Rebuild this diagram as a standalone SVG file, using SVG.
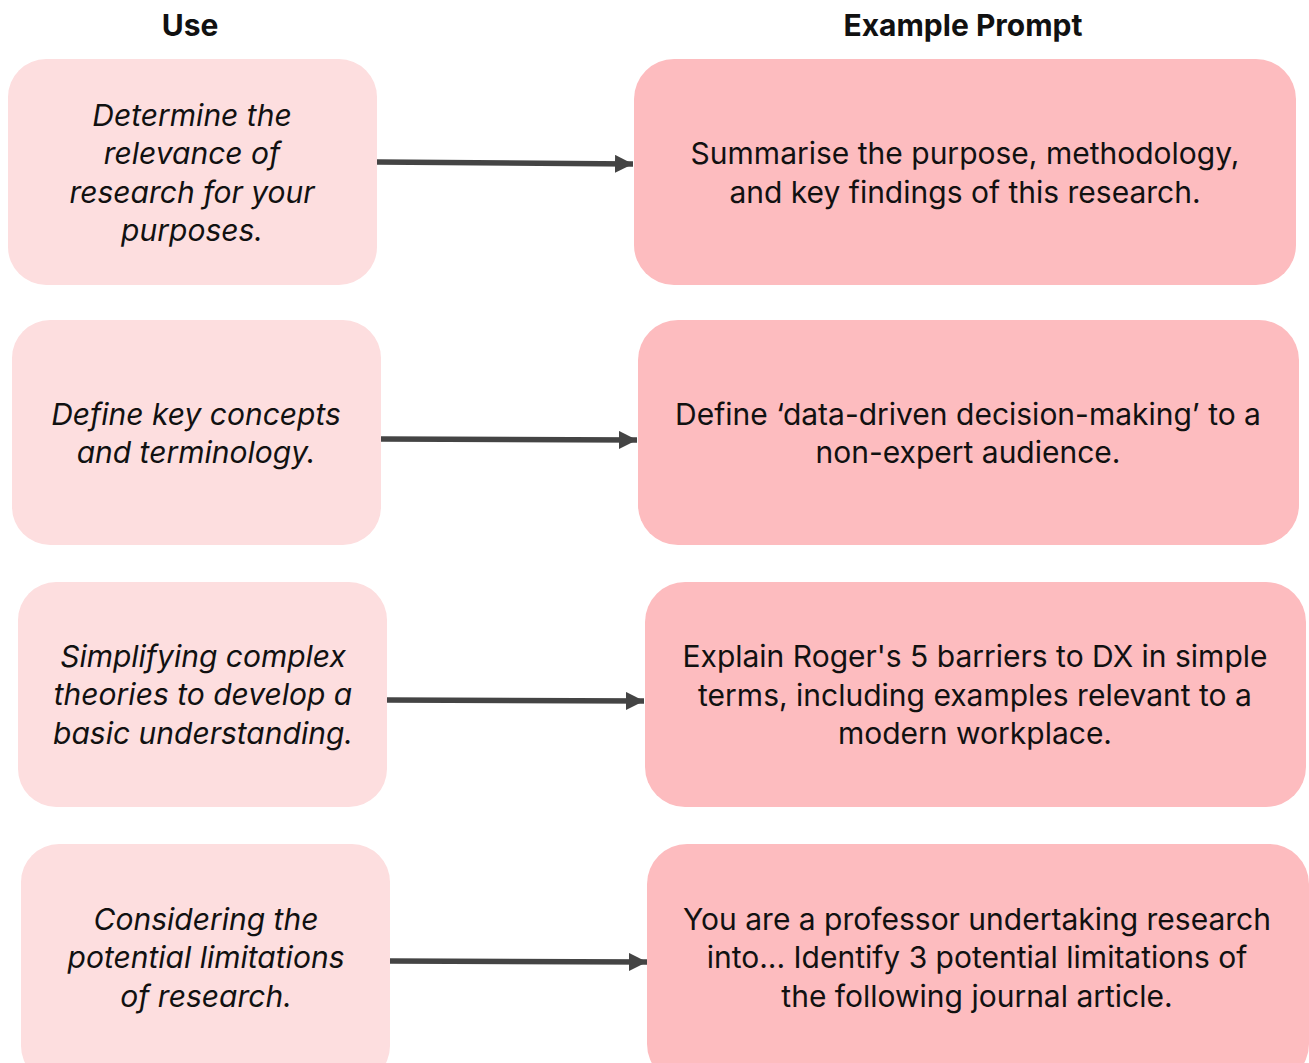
<svg xmlns="http://www.w3.org/2000/svg" width="1309" height="1063" viewBox="0 0 1309 1063">
<defs>
<style>
.use{fill:#FDDEDF}
.ex{fill:#FDBCBF}
.t{font-family:Inter,"Open Sans",sans-serif;font-size:30px;fill:#111;text-anchor:middle}
.i{font-style:italic}
.h{font-family:Inter,"Open Sans",sans-serif;font-size:30px;font-weight:bold;fill:#111;text-anchor:middle}
.c{stroke:#444;stroke-width:5.5;fill:none}
</style>
<marker id="ah" viewBox="0 0 18 18" refX="18" refY="9" markerWidth="18" markerHeight="18" markerUnits="userSpaceOnUse" orient="auto">
<path d="M0,0 L18,9 L0,18 Z" fill="#444"/>
</marker>
</defs>
<rect width="1309" height="1063" fill="#fff"/>
<text class="h" x="190" y="36">Use</text>
<text class="h" x="963" y="36">Example Prompt</text>
<g id="use1"><rect class="use" x="8" y="59" width="369" height="226" rx="38"/>
<text class="t i"><tspan x="192" y="126">Determine the</tspan><tspan x="192" y="164">relevance of</tspan><tspan x="192" y="203">research for your</tspan><tspan x="192" y="241">purposes.</tspan></text></g>
<g id="use2"><rect class="use" x="12" y="320" width="369" height="225" rx="38"/>
<text class="t i"><tspan x="196" y="425">Define key concepts</tspan><tspan x="196" y="463">and terminology.</tspan></text></g>
<g id="use3"><rect class="use" x="18" y="582" width="369" height="225" rx="38"/>
<text class="t i"><tspan x="203" y="667">Simplifying complex</tspan><tspan x="203" y="705">theories to develop a</tspan><tspan x="203" y="744">basic understanding.</tspan></text></g>
<g id="use4"><rect class="use" x="21" y="844" width="369" height="240" rx="38"/>
<text class="t i"><tspan x="206" y="930">Considering the</tspan><tspan x="206" y="968">potential limitations</tspan><tspan x="206" y="1007">of research.</tspan></text></g>
<g id="ex1"><rect class="ex" x="634" y="59" width="662" height="226" rx="40"/>
<text class="t"><tspan x="965" y="164">Summarise the purpose, methodology,</tspan><tspan x="965" y="203">and key findings of this research.</tspan></text></g>
<g id="ex2"><rect class="ex" x="638" y="320" width="661" height="225" rx="40"/>
<text class="t"><tspan x="968" y="425">Define ‘data-driven decision-making’ to a</tspan><tspan x="968" y="463">non-expert audience.</tspan></text></g>
<g id="ex3"><rect class="ex" x="645" y="582" width="661" height="225" rx="40"/>
<text class="t"><tspan x="975" y="667">Explain Roger's 5 barriers to DX in simple</tspan><tspan x="975" y="706">terms, including examples relevant to a</tspan><tspan x="975" y="744">modern workplace.</tspan></text></g>
<g id="ex4"><rect class="ex" x="647" y="844" width="662" height="240" rx="40"/>
<text class="t"><tspan x="977" y="930">You are a professor undertaking research</tspan><tspan x="977" y="968">into... Identify 3 potential limitations of</tspan><tspan x="977" y="1007">the following journal article.</tspan></text></g>
<g id="connectors">
<line class="c" x1="377" y1="162" x2="633" y2="164" marker-end="url(#ah)"/>
<line class="c" x1="381" y1="439" x2="637" y2="440" marker-end="url(#ah)"/>
<line class="c" x1="387" y1="700" x2="644" y2="701" marker-end="url(#ah)"/>
<line class="c" x1="390" y1="961" x2="647" y2="962" marker-end="url(#ah)"/>
</g>
</svg>
